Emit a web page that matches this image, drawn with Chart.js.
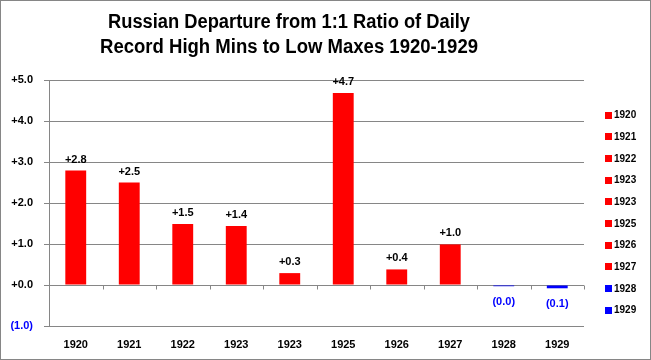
<!DOCTYPE html>
<html>
<head>
<meta charset="utf-8">
<script src="https://cdn.jsdelivr.net/npm/chart.js@4.4.1/dist/chart.umd.min.js"></script>
<style>
  html, body { margin: 0; padding: 0; background: #fff; }
  #wrap { width: 651px; height: 360px; position: relative; }
</style>
</head>
<body>
<div id="wrap"><canvas id="c" width="651" height="360"></canvas></div>
<script>
// ---- data ----
const categories = ['1920', '1921', '1922', '1923', '1923', '1925', '1926', '1927', '1928', '1929'];
const departures = [2.79, 2.50, 1.49, 1.44, 0.29, 4.68, 0.38, 0.99, -0.03, -0.08];
const titleLines = ['Russian Departure from 1:1 Ratio of Daily', 'Record High Mins to Low Maxes 1920-1929'];
const yMin = -1, yMax = 5, yStep = 1;

// ---- styles ----
const POS = '#FF0000';
const NEG = '#0000FF';
const GRID = '#868686';
const FONT = '"Liberation Sans", Arial, sans-serif';

function fmt(v) {
  return v < 0 ? '(' + Math.abs(v).toFixed(1) + ')' : '+' + Math.abs(v).toFixed(1);
}

const decorPlugin = {
  id: 'decor',
  afterDatasetsDraw(chart) {
    const ctx = chart.ctx;
    const xs = chart.scales.x, ys = chart.scales.y;
    // tick marks on the zero (category) axis between categories
    const y0 = Math.round(ys.getPixelForValue(0)) + 0.5;
    ctx.save();
    ctx.strokeStyle = GRID;
    ctx.lineWidth = 1;
    const n = categories.length;
    for (let i = 0; i <= n; i++) {
      const x = Math.round(xs.left + i * xs.width / n) + 0.5;
      ctx.beginPath();
      ctx.moveTo(x, y0);
      ctx.lineTo(x, y0 + 4);
      ctx.stroke();
    }
    // data labels
    ctx.font = 'bold 11px ' + FONT;
    ctx.textAlign = 'center';
    ctx.textBaseline = 'alphabetic';
    const meta = chart.getDatasetMeta(0);
    meta.data.forEach((bar, i) => {
      const v = departures[i];
      if (v >= 0) {
        ctx.fillStyle = '#000';
        ctx.fillText(fmt(v), bar.x, bar.y - 8);
      } else {
        ctx.fillStyle = NEG;
        ctx.fillText(fmt(v), bar.x, bar.y + 19);
      }
    });
    ctx.restore();
  },
  afterDraw(chart) {
    const ctx = chart.ctx;
    ctx.save();
    // outer border
    ctx.strokeStyle = GRID;
    ctx.lineWidth = 1;
    ctx.strokeRect(0.5, 0.5, chart.width - 1, chart.height - 1);
    // title
    ctx.fillStyle = '#000';
    ctx.font = 'bold 20px ' + FONT;
    ctx.textAlign = 'center';
    ctx.textBaseline = 'alphabetic';
    ctx.fillText(titleLines[0], 289, 28, 362);
    ctx.fillText(titleLines[1], 289, 53, 378);
    // legend (one entry per category)
    ctx.font = 'bold 10px ' + FONT;
    ctx.textAlign = 'left';
    ctx.textBaseline = 'middle';
    categories.forEach((c, i) => {
      const y = 115 + i * 21.67;
      ctx.fillStyle = departures[i] < 0 ? NEG : POS;
      ctx.fillRect(605, Math.round(y - 3.5), 7, 7);
      ctx.fillStyle = '#000';
      ctx.fillText(c, 614, y + 0.5);
    });
    ctx.restore();
  }
};

new Chart(document.getElementById('c'), {
  type: 'bar',
  data: {
    labels: categories,
    datasets: [{
      label: 'Departure',
      data: departures,
      backgroundColor: (c) => (c.raw < 0 ? NEG : POS),
      borderWidth: 0,
      categoryPercentage: 1,
      barPercentage: 0.39
    }]
  },
  options: {
    responsive: false,
    animation: false,
    devicePixelRatio: 1,
    layout: { padding: { top: 80, right: 67, bottom: 0, left: 0 } },
    plugins: {
      legend: { display: false },
      title: { display: false },
      tooltip: { enabled: false }
    },
    scales: {
      x: {
        grid: { display: false, drawTicks: false },
        border: { display: false },
        ticks: {
          color: '#000',
          font: { family: FONT, size: 11, weight: 'bold' },
          padding: 12,
          maxRotation: 0,
          autoSkip: false
        },
        afterFit(s) { s.height = 34; }
      },
      y: {
        min: yMin,
        max: yMax,
        grid: { color: GRID, lineWidth: 1, tickLength: 5, drawTicks: true },
        border: { display: true, color: GRID },
        ticks: {
          stepSize: yStep,
          padding: 11,
          color: (c) => (c.tick && c.tick.value < 0 ? NEG : '#000'),
          font: { family: FONT, size: 11, weight: 'bold' },
          callback: (v) => fmt(v)
        },
        afterFit(s) { s.width = 49; }
      }
    }
  },
  plugins: [decorPlugin]
});
</script>
</body>
</html>
